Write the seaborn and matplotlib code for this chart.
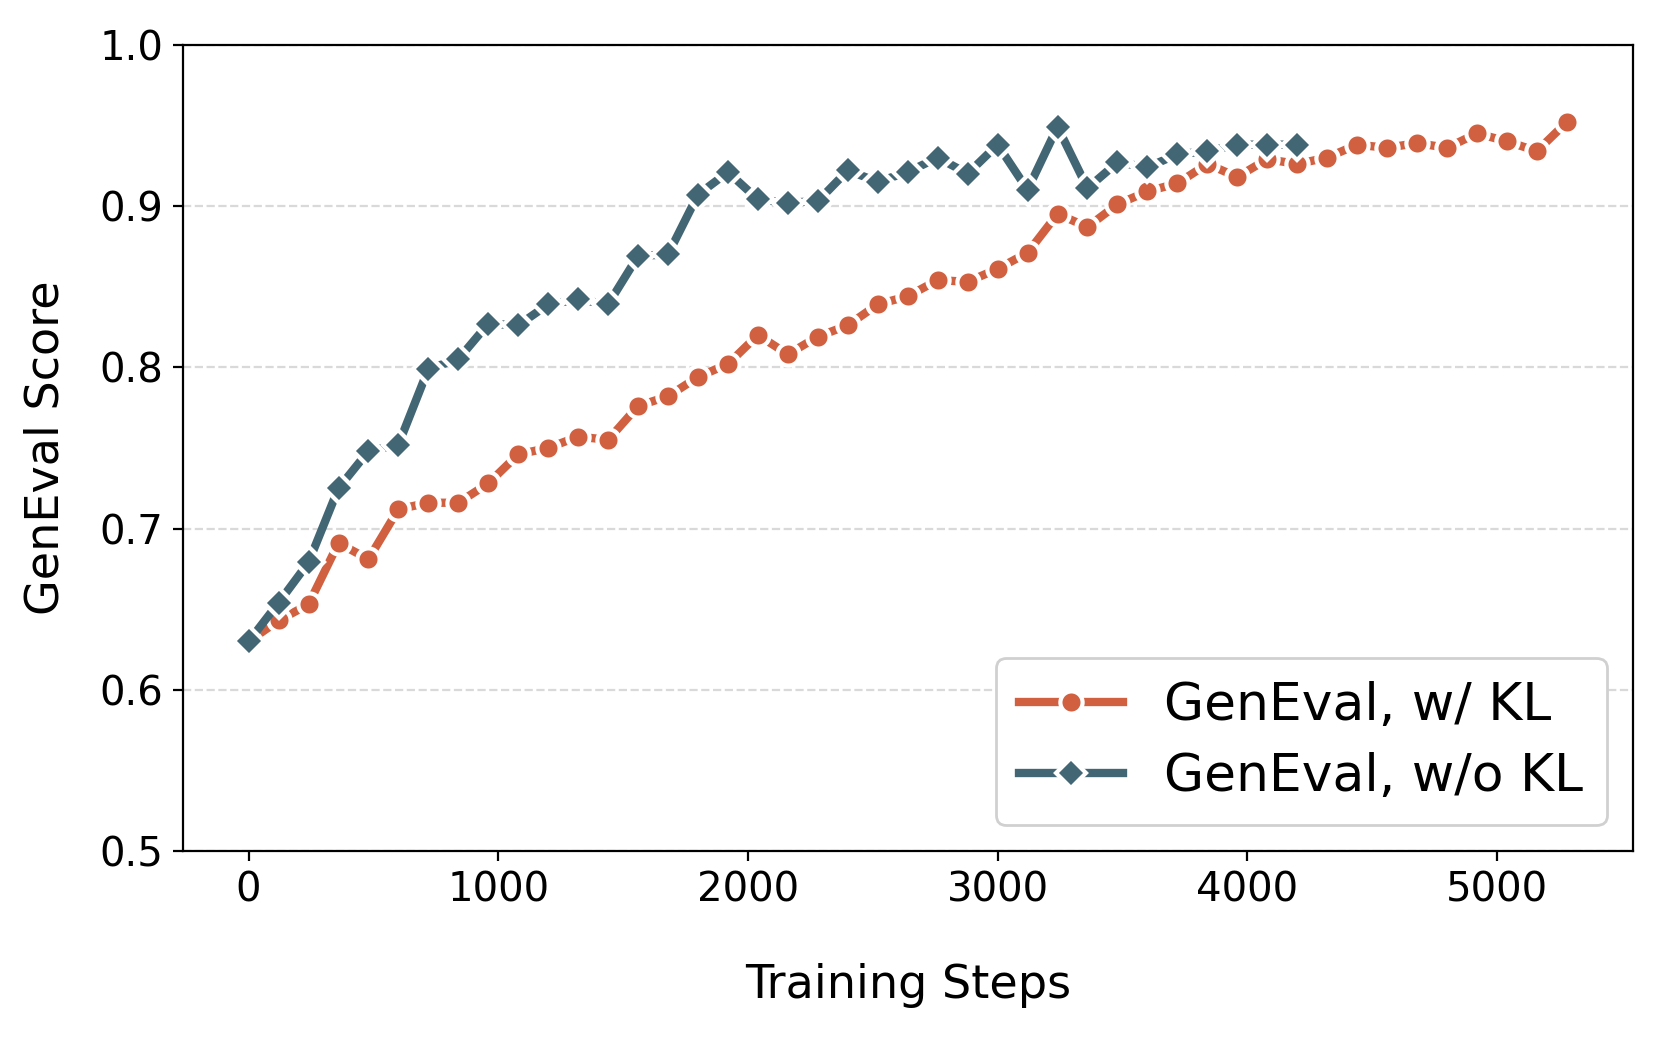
import matplotlib
matplotlib.use('Agg')
import matplotlib.pyplot as plt
import seaborn as sns
import numpy as np
import pandas as pd

### GenEval score over training, with and without KL

steps_kl = list(range(0, 5281, 120))
score_kl = [0.630, 0.643, 0.653, 0.691, 0.681, 0.712, 0.716, 0.716, 0.728, 0.746,
            0.750, 0.757, 0.755, 0.776, 0.782, 0.794, 0.802, 0.820, 0.808, 0.819,
            0.826, 0.839, 0.844, 0.854, 0.853, 0.861, 0.871, 0.895, 0.887, 0.901,
            0.909, 0.914, 0.926, 0.918, 0.929, 0.926, 0.930, 0.938, 0.936, 0.939,
            0.936, 0.945, 0.940, 0.934, 0.952]

steps_nokl = list(range(0, 4201, 120))
score_nokl = [0.630, 0.654, 0.679, 0.725, 0.748, 0.752, 0.799, 0.805, 0.827, 0.826,
              0.839, 0.842, 0.839, 0.869, 0.870, 0.907, 0.921, 0.904, 0.902, 0.903,
              0.922, 0.915, 0.921, 0.930, 0.920, 0.938, 0.910, 0.949, 0.911, 0.927,
              0.924, 0.932, 0.934, 0.938, 0.938, 0.938]

labels = ['GenEval, w/ KL', 'GenEval, w/o KL']
colors = ['#D0603F', '#436674']
markers = ['o', 'D']

df = pd.concat([
    pd.DataFrame({'step': steps_kl, 'score': score_kl, 'run': labels[0]}),
    pd.DataFrame({'step': steps_nokl, 'score': score_nokl, 'run': labels[1]}),
])

fig, ax = plt.subplots(figsize=(8.305, 5.19), dpi=200)
fig.subplots_adjust(left=0.110, right=0.983, top=0.957, bottom=0.180)

for lab, col, mk in zip(labels, colors, markers):
    sub = df[df['run'] == lab]
    sns.lineplot(data=sub, x='step', y='score', ax=ax, color=col, label=lab,
                 marker=mk, markersize=8 if mk == 'o' else 7.5, linewidth=3,
                 markeredgecolor='white', markeredgewidth=1.5)

ax.set_ylim(0.5, 1.0)
ax.set_yticks(np.arange(0.5, 1.01, 0.1))
ax.set_xticks([0, 1000, 2000, 3000, 4000, 5000])
ax.tick_params(labelsize=14.5)
ax.grid(axis='y', linestyle='--', color='#d9d9d9', linewidth=0.8)
ax.set_axisbelow(True)
ax.set_xlabel('Training Steps', fontsize=16.6, labelpad=19)
ax.set_ylabel('GenEval Score', fontsize=16.6, labelpad=11)
ax.legend(loc='lower right', fontsize=18.7, frameon=True, edgecolor='#d0d0d0',
          framealpha=1, handlelength=2.0, borderpad=0.45, labelspacing=0.4)

plt.savefig('out.png', dpi=200)
plt.close()
